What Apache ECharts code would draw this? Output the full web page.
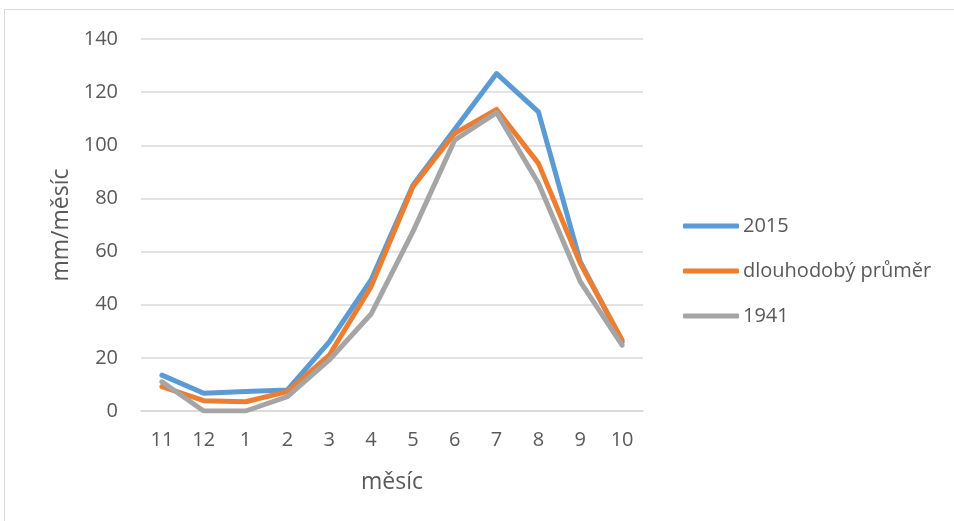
<!DOCTYPE html>
<html>
<head>
<meta charset="utf-8">
<script src="https://cdn.jsdelivr.net/npm/echarts@6/dist/echarts.min.js"></script>
<style>html,body{margin:0;padding:0;background:#fff}#c{width:954px;height:521px}</style>
</head>
<body>
<div id="c"></div>
<script>
const months = ['11','12','1','2','3','4','5','6','7','8','9','10'];
const s2015 = [13.5, 6.7, 7.3, 7.9, 26, 49.3, 85, 106, 127, 112.6, 56.2, 26];
const sAvg = [9.2, 3.9, 3.5, 7.3, 21, 46.8, 84.4, 104.5, 113.5, 93.2, 55.6, 26.7];
const s1941 = [11, 0, 0, 5.4, 19.2, 36.5, 67.5, 102, 112.3, 85.7, 48.7, 24.8];
const seriesNames = ['2015', 'dlouhodobý průměr', '1941'];
const yTitle = 'mm/měsíc';
const xTitle = 'měsíc';

const font = '"Open Sans", sans-serif';
const txt = '#595959';
const chart = echarts.init(document.getElementById('c'), null, {renderer: 'canvas'});
const mk = (name, data, color) => ({
  name, type: 'line', data, symbol: 'none', smooth: false,
  lineStyle: {color, width: 5, cap: 'round', join: 'round'},
  itemStyle: {color}
});
chart.setOption({
  animation: false,
  backgroundColor: '#fff',
  graphic: [{type: 'rect', shape: {x: 4.5, y: 9.5, width: 1000, height: 600},
    style: {fill: 'none', stroke: '#d9d9d9', lineWidth: 1}, silent: true}],
  grid: {left: 141, right: 311, top: 39, bottom: 110},
  legend: {
    orient: 'vertical', left: 678, top: 211, itemGap: 25,
    itemWidth: 56, itemHeight: 5, icon: 'roundRect',
    textStyle: {color: txt, fontFamily: font, fontSize: 20, padding: [0,0,0,-1]},
    data: seriesNames
  },
  xAxis: {
    type: 'category', data: months, boundaryGap: true,
    name: xTitle, nameLocation: 'middle', nameGap: 60,
    nameTextStyle: {color: txt, fontFamily: font, fontSize: 23},
    axisLine: {show: true, lineStyle: {color: '#d9d9d9', width: 1.5}},
    axisTick: {show: false},
    axisLabel: {color: txt, fontFamily: font, fontSize: 20, margin: 19}
  },
  yAxis: {
    type: 'value', min: 0, max: 140, interval: 20,
    name: yTitle, nameLocation: 'middle', nameGap: 68,
    nameTextStyle: {color: txt, fontFamily: font, fontSize: 23},
    axisLine: {show: false}, axisTick: {show: false},
    splitLine: {lineStyle: {color: '#d9d9d9', width: 1.5}},
    axisLabel: {color: txt, fontFamily: font, fontSize: 20, margin: 23}
  },
  series: [
    mk(seriesNames[0], s2015, '#5B9BD5'),
    mk(seriesNames[1], sAvg, '#ED7D31'),
    mk(seriesNames[2], s1941, '#A5A5A5')
  ]
});
</script>
</body>
</html>
